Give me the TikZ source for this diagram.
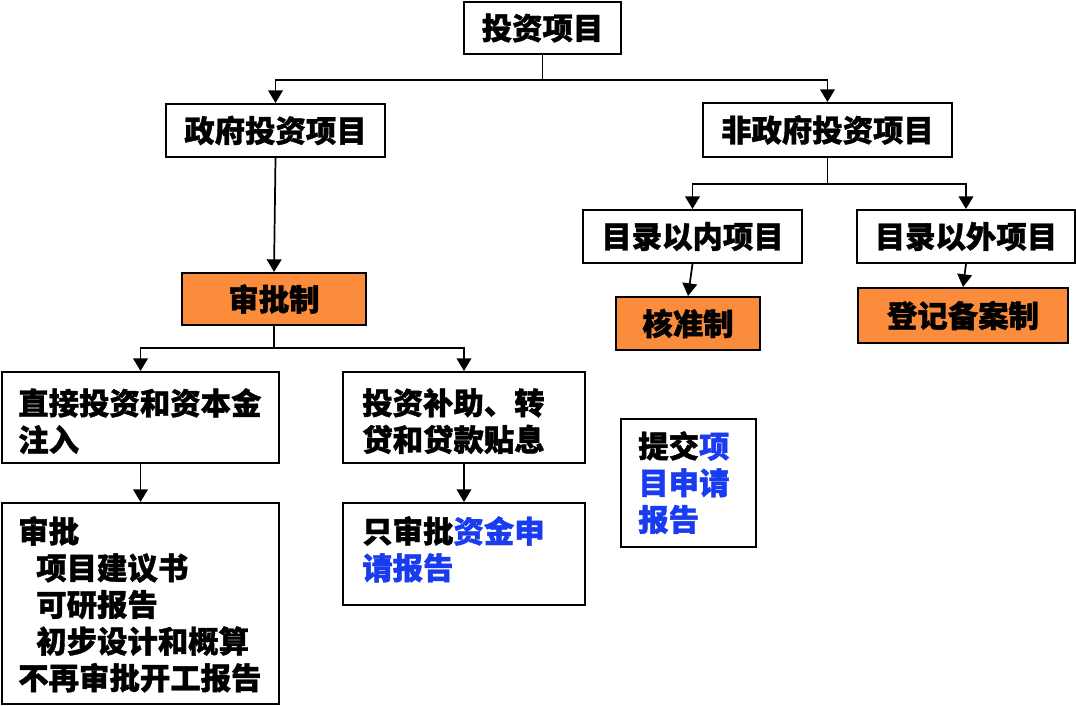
\documentclass[tikz,border=0pt]{standalone}
\usepackage{fontspec}
\setmainfont{Noto Sans CJK SC}[BoldFeatures={FakeBold=1.2}]
\usetikzlibrary{arrows.meta}
\definecolor{boxorange}{RGB}{250,140,60}
\definecolor{txtblue}{RGB}{25,60,240}
\newcommand\mkbox[7]{\node[boxst, fill=#6, minimum width={(#4-#2)*0.75pt}, minimum height={(#5-#3)*0.75pt}] (#1) at ({(#2+#4)/2},{(#3+#5)/2}) {#7};}
\begin{document}
\begin{tikzpicture}[x=0.75pt, y=-0.75pt,
  font=\bfseries\fontsize{22.8}{27.5}\selectfont,
  boxst/.style={draw, line width=1.5pt, inner sep=0pt},
  lbl/.style={inner sep=0pt, align=left, anchor=north west},
  arr/.style={line width=1.3pt, -{Triangle[length=9.5pt,width=11pt]}}]
\useasboundingbox (0,0) rectangle (1076,706);
% boxes
\mkbox{top}{464}{2}{621}{54}{white}{投资项目}
\mkbox{gov}{166}{104}{385}{157}{white}{政府投资项目}
\mkbox{ngov}{703}{103}{952}{157}{white}{非政府投资项目}
\mkbox{spz}{182}{273}{366}{325}{boxorange}{审批制}
\mkbox{inlist}{583}{210}{802}{263}{white}{目录以内项目}
\mkbox{outlist}{857}{210}{1075}{263}{white}{目录以外项目}
\mkbox{hzz}{616}{297}{760}{350}{boxorange}{核准制}
\mkbox{djba}{858}{288}{1068}{343}{boxorange}{登记备案制}
\mkbox{d1}{2}{372}{279}{463}{white}{}
\mkbox{d2}{343}{372}{585}{463}{white}{}
\mkbox{e1}{2}{503}{279}{704}{white}{}
\mkbox{e2}{343}{503}{585}{605}{white}{}
\mkbox{sub}{621}{419}{756}{547}{white}{}
% texts
\node[lbl] (d1t) at (18,388) {直接投资和资本金\\注入};
\node[lbl] (d2t) at (362,388) {投资补助、转\\贷和贷款贴息};
\node[lbl] (e1t) at (18,516) {审批\\\hspace*{13.5pt}项目建议书\\\hspace*{13.5pt}可研报告\\\hspace*{13.5pt}初步设计和概算\\不再审批开工报告};
\node[lbl] (e2t) at (362,516) {只审批{\color{txtblue}资金申}\\{\color{txtblue}请报告}};
\node[lbl] (subt) at (638,431) {提交{\color{txtblue}项}\\{\color{txtblue}目申请}\\{\color{txtblue}报告}};
% connectors
\draw[arr] (top.south) -- ++(0,25) -| (gov.north);
\draw[arr] (top.south) -- ++(0,25) -| (ngov.north);
\draw[arr] (gov.south) -- (spz.north);
\draw[arr] (spz.south) -- ++(0,22) -| (d1.north);
\draw[arr] (spz.south) -- ++(0,22) -| (d2.north);
\draw[arr] (d1.south) -- (e1.north);
\draw[arr] (d2.south) -- (e2.north);
\draw[arr] (ngov.south) -- ++(0,26) -| (inlist.north);
\draw[arr] (ngov.south) -- ++(0,26) -| (outlist.north);
\draw[arr] (inlist.south) -- (hzz.north);
\draw[arr] (outlist.south) -- (djba.north);
\end{tikzpicture}
\end{document}
